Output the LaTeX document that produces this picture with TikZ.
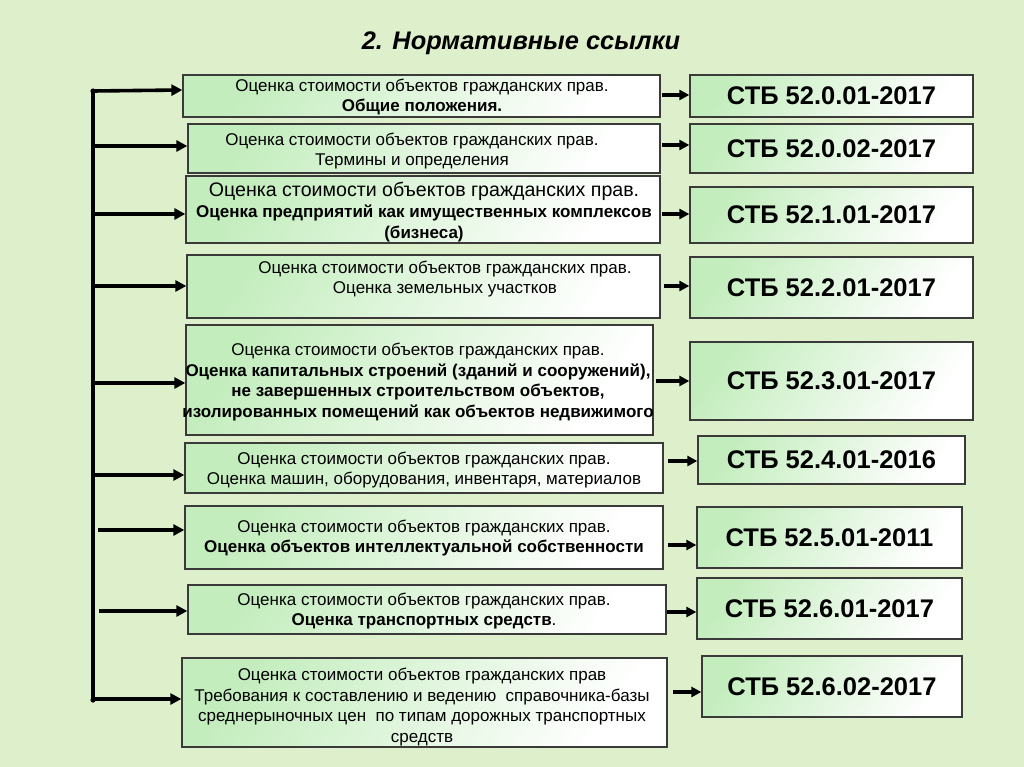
\documentclass[tikz,border=0pt]{standalone}
\usepackage{fontspec}
\setmainfont{Liberation Sans}
\usetikzlibrary{arrows.meta}
\definecolor{bg}{HTML}{DEEFCC}
\definecolor{boxg}{HTML}{C4EDBE}
\definecolor{edge}{HTML}{3A3A3A}
\tikzset{
  lbox/.style={draw=edge, line width=1.3pt, top color=boxg, bottom color=white, shading angle=55, inner sep=0pt},
  txt/.style={align=center, font=\fontsize{17}{20.5}\selectfont, inner sep=0pt},
  stdtxt/.style={font=\fontsize{25.5}{29}\selectfont\bfseries, inner sep=0pt},
  arr/.style={line width=3.6pt, -{Triangle[length=11pt,width=11pt]}},
  sarr/.style={line width=3.2pt, -{Triangle[length=10pt,width=10pt]}},
}
\begin{document}
\begin{tikzpicture}[x=1pt,y=-1pt]
\useasboundingbox (0,0) rectangle (1024,767);
\fill[bg] (0,0) rectangle (1024,767);

% title
\node[inner sep=0pt, font=\fontsize{25.4}{30}\selectfont\bfseries\itshape] (title) at (521,43) {2. Нормативные ссылки};

% left boxes
\node[lbox, minimum width=477pt, minimum height=42pt] (L1) at (421.5,96) {};
\node[lbox, minimum width=472pt, minimum height=49pt] (L2) at (424,148.5) {};
\node[lbox, minimum width=474pt, minimum height=67pt] (L3) at (423,209.5) {};
\node[lbox, minimum width=473pt, minimum height=63pt] (L4) at (423.5,286.5) {};
\node[lbox, minimum width=467pt, minimum height=110pt] (L5) at (419.5,380) {};
\node[lbox, minimum width=478pt, minimum height=50pt] (L6) at (424,468) {};
\node[lbox, minimum width=478pt, minimum height=63pt] (L7) at (424,537.5) {};
\node[lbox, minimum width=478pt, minimum height=49pt] (L8) at (427,609.5) {};
\node[lbox, minimum width=485pt, minimum height=89pt] (L9) at (424.5,702.5) {};

% left texts
\node[txt] (T1) at (422,97) {Оценка стоимости объектов гражданских прав.\\\textbf{Общие положения.}};
\node[txt] (T2) at (412,151) {Оценка стоимости объектов гражданских прав.\\Термины и определения};
\node[txt] (T3) at (424,212) {{\fontsize{19.6}{22}\selectfont Оценка стоимости объектов гражданских прав.}\\[1pt]\textbf{Оценка предприятий как имущественных комплексов}\\\textbf{(бизнеса)}};
\node[txt] (T4) at (445,279) {Оценка стоимости объектов гражданских прав.\\Оценка земельных участков};
\node[txt] (T5) at (418,382) {Оценка стоимости объектов гражданских прав.\\\textbf{Оценка капитальных строений (зданий и сооружений),}\\\textbf{не завершенных строительством объектов,}\\\textbf{изолированных помещений как объектов недвижимого}};
\node[txt] (T6) at (424,470) {Оценка стоимости объектов гражданских прав.\\Оценка машин, оборудования, инвентаря, материалов};
\node[txt] (T7) at (424,538) {Оценка стоимости объектов гражданских прав.\\\textbf{Оценка объектов интеллектуальной собственности}};
\node[txt] (T8) at (424,611) {Оценка стоимости объектов гражданских прав.\\\textbf{Оценка транспортных средств}.};
\node[txt] (T9) at (422,707) {Оценка стоимости объектов гражданских прав\\Требования к составлению и ведению\ \ справочника-базы\\среднерыночных цен\ \ по типам дорожных транспортных\\средств};

% right boxes
\node[lbox, minimum width=283pt, minimum height=42pt] (R1) at (831.5,96) {};
\node[lbox, minimum width=283pt, minimum height=49pt] (R2) at (831.5,148.5) {};
\node[lbox, minimum width=283pt, minimum height=56pt] (R3) at (831.5,215) {};
\node[lbox, minimum width=283pt, minimum height=61pt] (R4) at (831.5,287.5) {};
\node[lbox, minimum width=283pt, minimum height=78pt] (R5) at (831.5,381) {};
\node[lbox, minimum width=267pt, minimum height=48pt] (R6) at (831.5,460) {};
\node[lbox, minimum width=265pt, minimum height=61pt] (R7) at (829.5,537.5) {};
\node[lbox, minimum width=265pt, minimum height=61pt] (R8) at (829.5,608.5) {};
\node[lbox, minimum width=260pt, minimum height=61pt] (R9) at (832,686.5) {};

\node[stdtxt] (S1) at (R1.center) {СТБ 52.0.01-2017};
\node[stdtxt] (S2) at (R2.center) {СТБ 52.0.02-2017};
\node[stdtxt] (S3) at (R3.center) {СТБ 52.1.01-2017};
\node[stdtxt] (S4) at (R4.center) {СТБ 52.2.01-2017};
\node[stdtxt] (S5) at (R5.center) {СТБ 52.3.01-2017};
\node[stdtxt] (S6) at (R6.center) {СТБ 52.4.01-2016};
\node[stdtxt] (S7) at (R7.center) {СТБ 52.5.01-2011};
\node[stdtxt] (S8) at (R8.center) {СТБ 52.6.01-2017};
\node[stdtxt] (S9) at (R9.center) {СТБ 52.6.02-2017};

% vertical bus
\coordinate (top) at (93,91);
\coordinate (bot) at (93,700);
\draw[line width=4pt] (top) -- (bot);
\fill (top) circle (2.6pt);
\fill (bot) circle (2.6pt);

% left arrows
\coordinate (b2) at (93,146);
\coordinate (b3) at (93,214);
\coordinate (b4) at (93,286);
\coordinate (b5) at (93,383);
\coordinate (b6) at (93,475);
\coordinate (b7) at (98,530);
\coordinate (b8) at (99,611);
\coordinate (b9) at (93,699);
\draw[arr] (top) -- ([yshift=6pt]L1.west);
\draw[arr] (b2) -- (b2 -| L2.west);
\draw[arr] (b3) -- (b3 -| L3.west);
\draw[arr] (b4) -- (b4 -| L4.west);
\draw[arr] (b5) -- (b5 -| L5.west);
\draw[arr] (b6) -- (b6 -| L6.west);
\draw[arr] (b7) -- (b7 -| L7.west);
\draw[arr] (b8) -- (b8 -| L8.west);
\draw[arr] (b9) -- (b9 -| L9.west);

% right arrows
\coordinate (a1) at (662,95);
\coordinate (a2) at (662,145);
\coordinate (a3) at (662,214);
\coordinate (a4) at (664,286);
\coordinate (a5) at (656,381);
\coordinate (a6) at (668,461);
\coordinate (a7) at (668,545);
\coordinate (a8) at (667,612);
\coordinate (a9) at (673,692);
\draw[sarr] (a1) -- (a1 -| R1.west);
\draw[sarr] (a2) -- (a2 -| R2.west);
\draw[sarr] (a3) -- (a3 -| R3.west);
\draw[sarr] (a4) -- (a4 -| R4.west);
\draw[sarr] (a5) -- (a5 -| R5.west);
\draw[sarr] (a6) -- (a6 -| R6.west);
\draw[sarr] (a7) -- (a7 -| R7.west);
\draw[sarr] (a8) -- (a8 -| R8.west);
\draw[sarr] (a9) -- (a9 -| R9.west);
\end{tikzpicture}
\end{document}
